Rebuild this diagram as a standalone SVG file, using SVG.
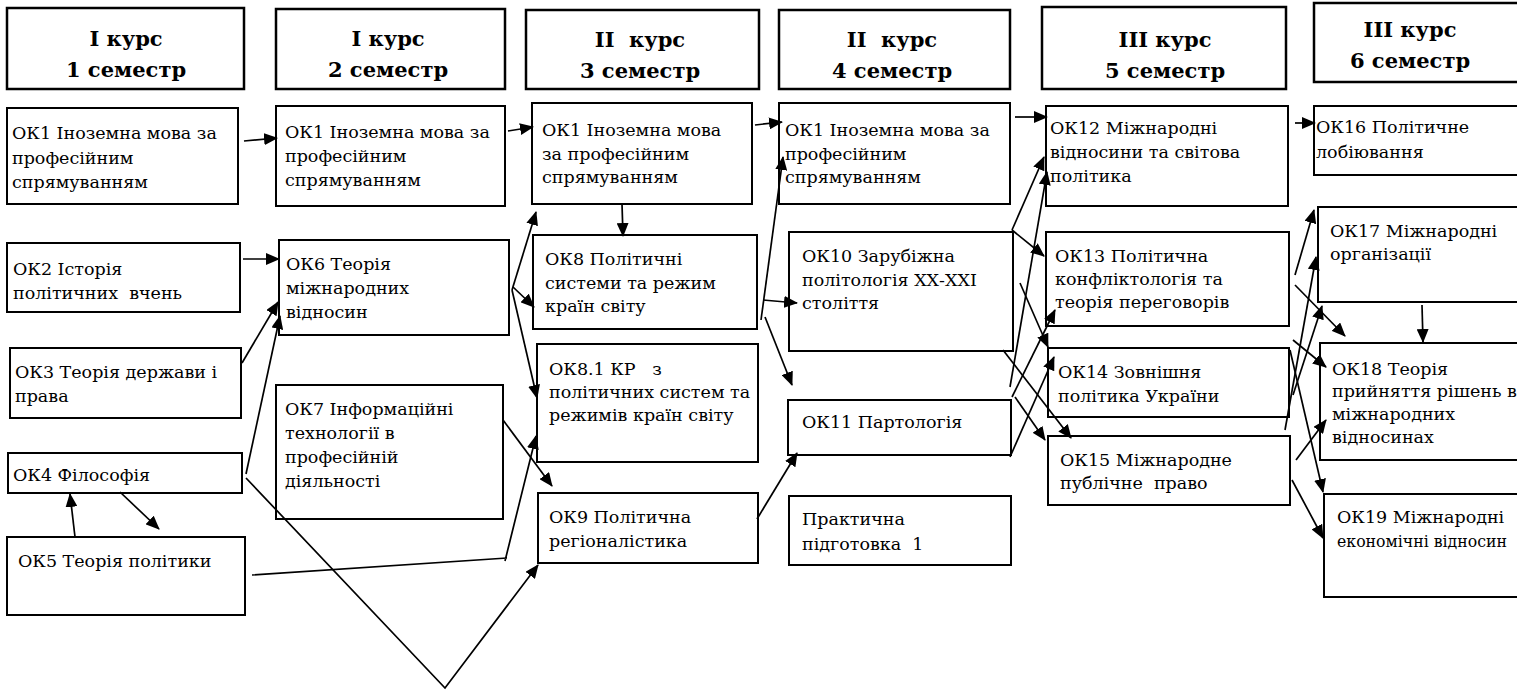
<svg xmlns="http://www.w3.org/2000/svg" width="1517" height="696" viewBox="0 0 1517 696">
<style>
.hb{fill:#fff;stroke:#000;stroke-width:2.5}
.b{fill:#fff;stroke:#000;stroke-width:2}
text{white-space:pre;fill:#000;font-family:"DejaVu Serif","Liberation Serif",serif}
.t{font-size:17.5px}
.h{font-size:21px;font-weight:bold;text-anchor:middle}
.c{fill:none;stroke:#000;stroke-width:1.7;marker-end:url(#ah)}
</style>
<defs>
<marker id="ah" viewBox="0 0 14 12" refX="13" refY="6" markerWidth="14" markerHeight="12" markerUnits="userSpaceOnUse" orient="auto">
<path d="M0,0 L14,6 L0,12 z" fill="#000"/>
</marker>
</defs>
<rect width="1517" height="696" fill="#fff"/>
<g id="h1"><rect class="hb" x="7" y="8" width="237" height="81"/><text class="h" x="126" y="46">І курс</text><text class="h" x="126" y="77">1 семестр</text></g>
<g id="h2"><rect class="hb" x="276" y="9" width="229" height="80"/><text class="h" x="388" y="46">І курс</text><text class="h" x="388" y="77">2 семестр</text></g>
<g id="h3"><rect class="hb" x="526" y="10" width="233" height="79"/><text class="h" x="640" y="47">ІІ  курс</text><text class="h" x="640" y="78">3 семестр</text></g>
<g id="h4"><rect class="hb" x="779" y="10" width="231" height="79"/><text class="h" x="892" y="47">ІІ  курс</text><text class="h" x="892" y="78">4 семестр</text></g>
<g id="h5"><rect class="hb" x="1042" y="7" width="244" height="82"/><text class="h" x="1165" y="47">ІІІ курс</text><text class="h" x="1165" y="78">5 семестр</text></g>
<g id="h6"><rect class="hb" x="1314" y="3" width="210" height="79"/><text class="h" x="1410" y="37">ІІІ курс</text><text class="h" x="1410" y="68">6 семестр</text></g>

<g id="b1"><rect class="b" x="7" y="108" width="231" height="96"/><text class="t"><tspan x="12" y="139">ОК1 Іноземна мова за</tspan><tspan x="12" y="164">професійним</tspan><tspan x="12" y="188">спрямуванням</tspan></text></g>
<g id="b2"><rect class="b" x="7" y="243" width="233" height="69"/><text class="t"><tspan x="13" y="275">ОК2 Історія</tspan><tspan x="13" y="299">політичних  вчень</tspan></text></g>
<g id="b3"><rect class="b" x="10" y="348" width="231" height="70"/><text class="t"><tspan x="15" y="378">ОК3 Теорія держави і</tspan><tspan x="15" y="402">права</tspan></text></g>
<g id="b4"><rect class="b" x="8" y="453" width="234" height="40"/><text class="t" x="13" y="481">ОК4 Філософія</text></g>
<g id="b5"><rect class="b" x="7" y="537" width="238" height="78"/><text class="t" x="18" y="567">ОК5 Теорія політики</text></g>

<g id="c1"><rect class="b" x="276" y="106" width="229" height="100"/><text class="t"><tspan x="285" y="138">ОК1 Іноземна мова за</tspan><tspan x="285" y="162">професійним</tspan><tspan x="285" y="186">спрямуванням</tspan></text></g>
<g id="c2"><rect class="b" x="279" y="240" width="230" height="95"/><text class="t"><tspan x="286" y="270">ОК6 Теорія</tspan><tspan x="286" y="294">міжнародних</tspan><tspan x="286" y="318">відносин</tspan></text></g>
<g id="c3"><rect class="b" x="276" y="385" width="227" height="134"/><text class="t"><tspan x="285" y="415">ОК7 Інформаційні</tspan><tspan x="285" y="439">технології в</tspan><tspan x="285" y="463">професійній</tspan><tspan x="285" y="487">діяльності</tspan></text></g>

<g id="d1"><rect class="b" x="532" y="103" width="220" height="101"/><text class="t"><tspan x="542" y="136">ОК1 Іноземна мова</tspan><tspan x="542" y="160">за професійним</tspan><tspan x="542" y="183">спрямуванням</tspan></text></g>
<g id="d2"><rect class="b" x="533" y="235" width="224" height="94"/><text class="t"><tspan x="545" y="265">ОК8 Політичні</tspan><tspan x="545" y="289">системи та режим</tspan><tspan x="545" y="312">країн світу</tspan></text></g>
<g id="d3"><rect class="b" x="537" y="344" width="221" height="118"/><text class="t"><tspan x="549" y="375">ОК8.1 КР   з</tspan><tspan x="549" y="398">політичних систем та</tspan><tspan x="549" y="421">режимів країн світу</tspan></text></g>
<g id="d4"><rect class="b" x="538" y="493" width="220" height="70"/><text class="t"><tspan x="549" y="523">ОК9 Політична</tspan><tspan x="549" y="547">регіоналістика</tspan></text></g>

<g id="e1"><rect class="b" x="779" y="103" width="231" height="101"/><text class="t"><tspan x="785" y="136">ОК1 Іноземна мова за</tspan><tspan x="785" y="160">професійним</tspan><tspan x="785" y="183">спрямуванням</tspan></text></g>
<g id="e2"><rect class="b" x="789" y="232" width="224" height="119"/><text class="t"><tspan x="802" y="262">ОК10 Зарубіжна</tspan><tspan x="802" y="286">політологія ХХ-ХХІ</tspan><tspan x="802" y="309">століття</tspan></text></g>
<g id="e3"><rect class="b" x="788" y="400" width="223" height="55"/><text class="t" x="802" y="428">ОК11 Партологія</text></g>
<g id="e4"><rect class="b" x="789" y="496" width="222" height="69"/><text class="t"><tspan x="802" y="525">Практична</tspan><tspan x="802" y="550">підготовка  1</tspan></text></g>

<g id="f1"><rect class="b" x="1046" y="106" width="242" height="100"/><text class="t"><tspan x="1050" y="134">ОК12 Міжнародні</tspan><tspan x="1050" y="158">відносини та світова</tspan><tspan x="1050" y="182">політика</tspan></text></g>
<g id="f2"><rect class="b" x="1046" y="232" width="243" height="94"/><text class="t"><tspan x="1055" y="262">ОК13 Політична</tspan><tspan x="1055" y="285">конфліктологія та</tspan><tspan x="1055" y="308">теорія переговорів</tspan></text></g>
<g id="f3"><rect class="b" x="1048" y="348" width="241" height="69"/><text class="t"><tspan x="1058" y="378">ОК14 Зовнішня</tspan><tspan x="1058" y="402">політика України</tspan></text></g>
<g id="f4"><rect class="b" x="1048" y="436" width="242" height="69"/><text class="t"><tspan x="1060" y="466">ОК15 Міжнародне</tspan><tspan x="1060" y="489">публічне  право</tspan></text></g>

<g id="g1"><rect class="b" x="1314" y="106" width="210" height="69"/><text class="t"><tspan x="1316" y="133">ОК16 Політичне</tspan><tspan x="1316" y="158">лобіювання</tspan></text></g>
<g id="g2"><rect class="b" x="1318" y="207" width="206" height="95"/><text class="t"><tspan x="1330" y="237">ОК17 Міжнародні</tspan><tspan x="1330" y="260">організації</tspan></text></g>
<g id="g3"><rect class="b" x="1320" y="343" width="204" height="117"/><text class="t"><tspan x="1332" y="375">ОК18 Теорія</tspan><tspan x="1332" y="397">прийняття рішень в</tspan><tspan x="1332" y="420">міжнародних</tspan><tspan x="1332" y="443">відносинах</tspan></text></g>
<g id="g4"><rect class="b" x="1324" y="494" width="200" height="103"/><text class="t"><tspan x="1337" y="523">ОК19 Міжнародні</tspan><tspan x="1337" y="547" textLength="170" lengthAdjust="spacingAndGlyphs">економічні відносин</tspan></text></g>

<g id="connectors">
<path class="c" d="M244,141 L277,138"/>
<path class="c" d="M508,131 L533,127"/>
<path class="c" d="M755,125 L782,122"/>
<path class="c" d="M1015,117 L1047,117"/>
<path class="c" d="M1295,123 L1315,123"/>
<path class="c" d="M622,204 L623,236"/>
<path class="c" d="M243,259 L279,259"/>
<path class="c" d="M242,363 L278,302"/>
<path class="c" d="M246,474 L280,316"/>
<path class="c" d="M75,537 L70,494"/>
<path class="c" d="M120,492 L159,529"/>
<path class="c" d="M246,478 L445,688 L538,565"/>
<path class="c" d="M252,575 L507,558 M505,561 L536,436"/>
<path class="c" d="M512,290 L536,212"/>
<path class="c" d="M513,287 L534,307"/>
<path class="c" d="M512,290 L537,398"/>
<path class="c" d="M503,420 L552,486"/>
<path class="c" d="M761,320 L783,157"/>
<path class="c" d="M763,300 L797,303"/>
<path class="c" d="M765,317 L792,385"/>
<path class="c" d="M757,519 L797,453"/>
<path class="c" d="M1012,230 L1044,157"/>
<path class="c" d="M1012,230 L1044,256"/>
<path class="c" d="M1010,387 L1047,172"/>
<path class="c" d="M1020,283 L1048,347"/>
<path class="c" d="M1003,350 L1071,438"/>
<path class="c" d="M1012,397 L1055,310"/>
<path class="c" d="M1010,457 L1054,357"/>
<path class="c" d="M1015,397 L1045,440"/>
<path class="c" d="M1295,275 L1314,210"/>
<path class="c" d="M1285,430 L1316,257"/>
<path class="c" d="M1293,395 L1322,306"/>
<path class="c" d="M1295,285 L1345,336"/>
<path class="c" d="M1293,340 L1326,367"/>
<path class="c" d="M1290,350 L1323,492"/>
<path class="c" d="M1296,460 L1326,420"/>
<path class="c" d="M1292,480 L1323,538"/>
<path class="c" d="M1422,305 L1423,342"/>
</g>
</svg>
